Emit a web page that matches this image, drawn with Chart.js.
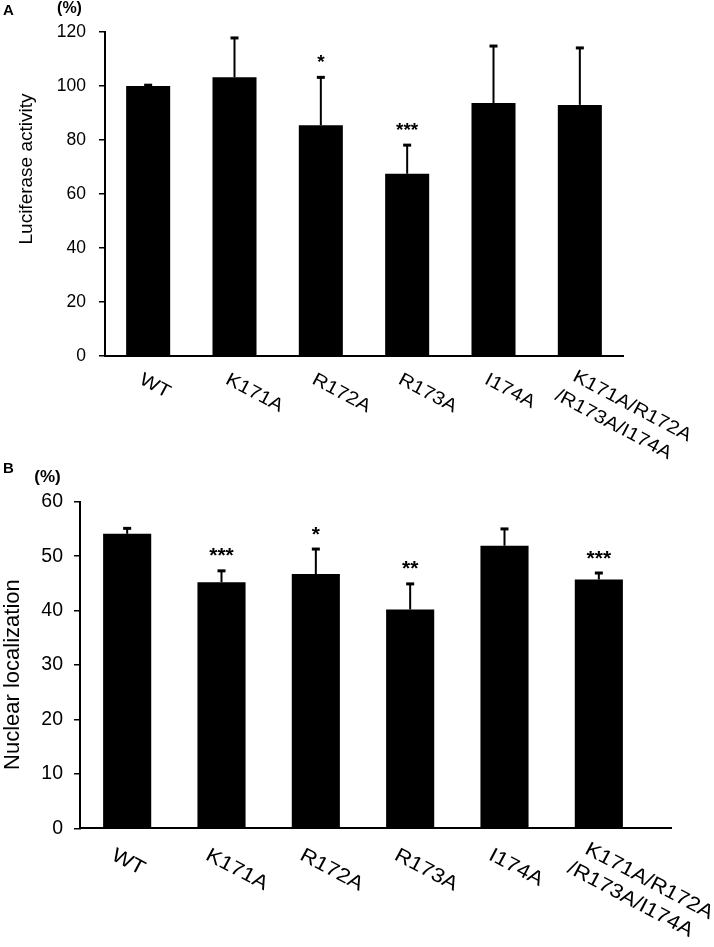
<!DOCTYPE html>
<html>
<head>
<meta charset="utf-8">
<script src="https://cdn.jsdelivr.net/npm/chart.js@4.4.0/dist/chart.umd.min.js"></script>
<style>
html,body{margin:0;padding:0;background:#fff;width:714px;height:947px;overflow:hidden;}
#wrap{position:relative;width:714px;height:947px;background:#fff;}
canvas{position:absolute;left:0;top:0;}
</style>
</head>
<body>
<div id="wrap">
<canvas id="cA" width="714" height="947"></canvas>
<canvas id="cB" width="714" height="947"></canvas>
</div>
<script>
// ---------------- data ----------------
const categories = ['WT', 'K171A', 'R172A', 'R173A', 'I174A', ['K171A/R172A', '/R173A/I174A']];

const luciferaseMean = [100.0, 103.2, 85.5, 67.5, 93.7, 93.0];
const luciferaseSD   = [0.3, 14.6, 17.7, 10.6, 21.1, 21.1];
const luciferaseSig  = ['', '', '*', '***', '', ''];
const luciferaseTicks = [0, 20, 40, 60, 80, 100, 120];

const nuclearMean = [54.1, 45.2, 46.7, 40.2, 51.9, 45.7];
const nuclearSD   = [1.0, 2.1, 4.6, 4.7, 3.1, 1.2];
const nuclearSig  = ['', '***', '*', '**', '', '***'];
const nuclearTicks = [0, 10, 20, 30, 40, 50, 60];

const titleA = 'Luciferase activity';
const titleB = 'Nuclear localization';
const unitLabel = '(%)';

// ---------------- drawing ----------------
const FONT = '"Liberation Sans", Arial, Helvetica, sans-serif';
const ANGLE = 28 * Math.PI / 180;   // clockwise label rotation
const STRETCH = 1.12;               // label glyphs slightly wide

function panelPlugin(o) {
  return {
    id: 'panel' + o.letter,
    afterDatasetsDraw(chart) {
      const ctx = chart.ctx, meta = chart.getDatasetMeta(0), ys = chart.scales.y;
      ctx.save();
      ctx.strokeStyle = '#000'; ctx.fillStyle = '#000'; ctx.lineWidth = 2;
      o.mean.forEach((m, i) => {
        const x = meta.data[i].x;
        const y0 = ys.getPixelForValue(m);
        const y1 = ys.getPixelForValue(m + o.sd[i]);
        ctx.beginPath(); ctx.moveTo(x, y0); ctx.lineTo(x, y1); ctx.stroke();
        ctx.fillRect(x - 4, y1 - 1.5, 8, 3);
        if (o.sig[i]) {
          ctx.font = 'bold ' + o.starSize + 'px ' + FONT;
          ctx.textAlign = 'center'; ctx.textBaseline = 'alphabetic';
          ctx.fillText(o.sig[i], x, y1 - 20 + o.starSize * 0.55);
        }
      });
      ctx.restore();
    },
    afterDraw(chart) {
      const ctx = chart.ctx, ca = chart.chartArea;
      ctx.save();
      // x-axis line runs a little past the last category
      if (o.axisExt) {
        const yb = Math.round(ca.bottom);
        ctx.fillStyle = '#000';
        ctx.fillRect(Math.floor(ca.right) - 1, yb - 1, o.axisExt + 1, 2);
      }
      ctx.fillStyle = '#000';
      ctx.textBaseline = 'alphabetic';
      // panel letter
      ctx.font = 'bold ' + o.letterSize + 'px ' + FONT;
      ctx.textAlign = 'left';
      ctx.fillText(o.letter, o.letterX, o.letterY);
      // unit
      ctx.font = 'bold ' + o.pctSize + 'px ' + FONT;
      ctx.textAlign = 'center';
      ctx.fillText(unitLabel, o.pctX, o.pctY);
      // y title
      ctx.save();
      ctx.translate(o.titleX, o.titleY);
      ctx.rotate(-Math.PI / 2);
      ctx.font = o.titleSize + 'px ' + FONT;
      ctx.textAlign = 'center';
      ctx.fillText(o.title, 0, 0);
      ctx.restore();
      // x category labels, rotated clockwise
      const xs = chart.scales.x;
      ctx.font = o.labSize + 'px ' + FONT;
      ctx.textAlign = 'left';
      categories.forEach((lab, i) => {
        const lines = Array.isArray(lab) ? lab : [lab];
        const multi = lines.length > 1;
        ctx.save();
        ctx.translate(xs.getPixelForValue(i) + o.labDx + (multi ? o.multiDx : 0),
                      ca.bottom + o.labDy + (multi ? o.multiDy : 0));
        ctx.rotate(ANGLE);
        lines.forEach((ln, k) => {
          ctx.save();
          ctx.translate(0, k * o.lineH);
          ctx.scale(STRETCH, 1);
          ctx.fillText(ln, k > 0 ? o.line2Dx : 0, 0);
          ctx.restore();
        });
        ctx.restore();
      });
      ctx.restore();
    }
  };
}

function makeChart(id, o) {
  return new Chart(document.getElementById(id), {
    type: 'bar',
    data: {
      labels: categories,
      datasets: [{
        data: o.mean,
        backgroundColor: '#000',
        borderWidth: 0,
        barPercentage: o.barPct,
        categoryPercentage: 1
      }]
    },
    options: {
      responsive: false,
      maintainAspectRatio: false,
      animation: false,
      devicePixelRatio: 1,
      layout: { padding: { left: 0, right: o.padRight, top: o.padTop, bottom: 0 } },
      plugins: { legend: { display: false }, tooltip: { enabled: false } },
      scales: {
        x: {
          grid: { display: false },
          border: { display: true, color: '#000', width: 2 },
          ticks: { display: false },
          afterFit(s) { s.height = o.xAxisH; }
        },
        y: {
          min: 0, max: o.ticks[o.ticks.length - 1],
          afterBuildTicks(s) { s.ticks = o.ticks.map(v => ({ value: v })); },
          grid: { drawOnChartArea: false, drawTicks: true, tickLength: 6, color: '#000', lineWidth: 1.5 },
          border: { display: true, color: '#000', width: 2 },
          ticks: { color: '#000', font: { family: FONT, size: o.tickSize }, padding: o.tickPad },
          afterFit(s) { s.width = o.yAxisW; }
        }
      }
    },
    plugins: [panelPlugin(o)]
  });
}

makeChart('cA', {
  letter: 'A', mean: luciferaseMean, sd: luciferaseSD, sig: luciferaseSig, ticks: luciferaseTicks,
  title: titleA, barPct: 0.51,
  padTop: 32, padRight: 91, yAxisW: 105, xAxisH: 947 - 356, axisExt: 0,
  tickSize: 17.5, tickPad: 13,
  starSize: 19,
  letterSize: 15, letterX: 3, letterY: 15,
  pctSize: 16, pctX: 69.5, pctY: 12.5,
  titleSize: 19, titleX: 31.5, titleY: 169,
  labSize: 18.5, labDx: -9.9, labDy: 27, multiDx: 1.7, multiDy: -3, lineH: 25, line2Dx: -6
});

makeChart('cB', {
  letter: 'B', mean: nuclearMean, sd: nuclearSD, sig: nuclearSig, ticks: nuclearTicks,
  title: titleB, barPct: 0.51,
  padTop: 501.7, padRight: 68, yAxisW: 80, xAxisH: 947 - 828.3, axisExt: 26,
  tickSize: 19.5, tickPad: 11,
  starSize: 21,
  letterSize: 15, letterX: 3, letterY: 473,
  pctSize: 17, pctX: 47.5, pctY: 482,
  titleSize: 22, titleX: 19, titleY: 674.6,
  labSize: 20, labDx: -17, labDy: 30.6, multiDx: 2, multiDy: -6, lineH: 25, line2Dx: -6
});
</script>
</body>
</html>
